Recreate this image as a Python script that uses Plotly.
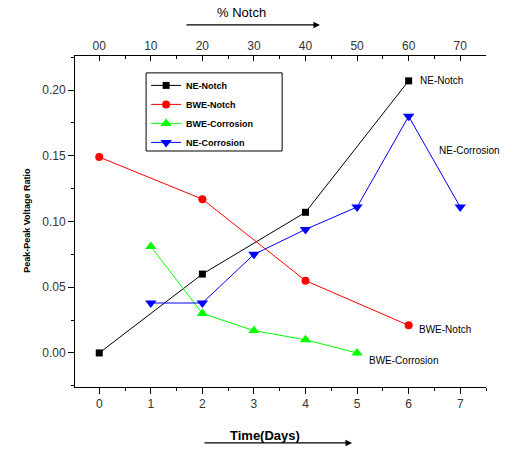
import plotly.graph_objects as go

# Measurement series (x in days)
ne_notch_days = [0, 2, 4, 6]
ne_notch_vals = [0.000, 0.060, 0.107, 0.207]

bwe_notch_days = [0, 2, 4, 6]
bwe_notch_vals = [0.149, 0.117, 0.055, 0.021]

bwe_corr_days = [1, 2, 3, 4, 5]
bwe_corr_vals = [0.081, 0.030, 0.017, 0.010, 0.000]

ne_corr_days = [1, 2, 3, 4, 5, 6, 7]
ne_corr_vals = [0.038, 0.038, 0.075, 0.094, 0.111, 0.180, 0.111]

day_ticks = [0, 1, 2, 3, 4, 5, 6, 7]
notch_tick_labels = ["00", "10", "20", "30", "40", "50", "60", "70"]
y_ticks = [0.00, 0.05, 0.10, 0.15, 0.20]

FONT = "Liberation Sans, Arial, sans-serif"

fig = go.Figure()

fig.add_trace(go.Scatter(x=ne_notch_days, y=ne_notch_vals, name="<b>NE-Notch</b>",
                         mode="lines+markers",
                         line=dict(color="black", width=1),
                         marker=dict(symbol="square", size=7, color="black")))
fig.add_trace(go.Scatter(x=bwe_notch_days, y=bwe_notch_vals, name="<b>BWE-Notch</b>",
                         mode="lines+markers",
                         line=dict(color="#ff0000", width=1),
                         marker=dict(symbol="circle", size=8, color="#ff0000")))
fig.add_trace(go.Scatter(x=bwe_corr_days, y=bwe_corr_vals, name="<b>BWE-Corrosion</b>",
                         mode="lines+markers",
                         line=dict(color="#00ff00", width=1),
                         marker=dict(symbol="triangle-up", size=10, color="#00ff00")))
fig.add_trace(go.Scatter(x=ne_corr_days, y=ne_corr_vals, name="<b>NE-Corrosion</b>",
                         mode="lines+markers",
                         line=dict(color="#0000ff", width=1),
                         marker=dict(symbol="triangle-down", size=10, color="#0000ff")))

# invisible trace to activate the top (% Notch) axis
fig.add_trace(go.Scatter(x=[day_ticks[0]], y=[0], xaxis="x2", mode="markers",
                         marker=dict(opacity=0), showlegend=False, hoverinfo="skip"))

x_range = [-0.47, 7.5]
y_range = [-0.0259, 0.2259]

fig.update_layout(
    width=525, height=449,
    margin=dict(l=75, r=39, t=56, b=62),
    paper_bgcolor="white", plot_bgcolor="white",
    font=dict(family=FONT, color="#222"),
    xaxis=dict(range=x_range, tickvals=day_ticks, showgrid=False, zeroline=False,
               showline=True, linecolor="black", linewidth=1,
               ticks="outside", ticklen=6, tickcolor="black",
               tickfont=dict(size=12, color="#333"),
               minor=dict(dtick=0.5, tick0=0, ticks="outside", ticklen=3,
                          tickcolor="black")),
    xaxis2=dict(range=x_range, overlaying="x", side="top", tickvals=day_ticks,
                ticktext=notch_tick_labels, showgrid=False, zeroline=False,
                showline=True, linecolor="black", linewidth=1,
                ticks="inside", ticklen=5, tickcolor="black",
                tickfont=dict(size=12, color="#333"),
                minor=dict(dtick=0.5, tick0=0, ticks="inside", ticklen=3,
                           tickcolor="black")),
    yaxis=dict(range=y_range, tickvals=y_ticks, tickformat=".2f",
               showgrid=False, zeroline=False,
               showline=True, linecolor="black", linewidth=1,
               ticks="outside", ticklen=6, tickcolor="black",
               tickfont=dict(size=12, color="#333"),
               minor=dict(dtick=0.025, tick0=0, ticks="outside", ticklen=3,
                          tickcolor="black")),
    legend=dict(x=0.173, y=0.955, xanchor="left", yanchor="top",
                bgcolor="rgba(0,0,0,0)", borderwidth=0,
                font=dict(size=9, family=FONT, color="black"),
                tracegroupgap=0),
    showlegend=True,
)

# framed box behind the legend entries
fig.add_shape(type="rect", xref="paper", yref="paper",
              x0=0.173, x1=0.504, y0=0.713, y1=0.949,
              line=dict(color="black", width=1), fillcolor="white", layer="above")

annotations = [
    # series end labels
    dict(x=6.19, y=0.207, xref="x", yref="y", text="NE-Notch", showarrow=False,
         xanchor="left", yanchor="middle", font=dict(size=10, color="black")),
    dict(x=6.55, y=0.154, xref="x", yref="y", text="NE-Corrosion", showarrow=False,
         xanchor="left", yanchor="middle", font=dict(size=10, color="black")),
    dict(x=6.17, y=0.018, xref="x", yref="y", text="BWE-Notch", showarrow=False,
         xanchor="left", yanchor="middle", font=dict(size=10, color="black")),
    dict(x=5.2, y=-0.006, xref="x", yref="y", text="BWE-Corrosion", showarrow=False,
         xanchor="left", yanchor="middle", font=dict(size=10, color="black")),
    # axis titles
    dict(x=-0.134, y=0.505, xref="paper", yref="paper", text="<b>Peak-Peak Voltage Ratio</b>",
         textangle=-90, showarrow=False, font=dict(size=9, color="black")),
    dict(x=0.406, y=1.102, xref="paper", yref="paper", text="% Notch",
         yanchor="bottom", showarrow=False, font=dict(size=13, color="black")),
    dict(x=0.462, y=-0.176, xref="paper", yref="paper", text="<b>Time(Days)</b>",
         yanchor="bottom", showarrow=False, font=dict(size=13, color="black")),
    # direction arrows
    dict(x=0.596, y=1.094, xref="paper", yref="paper", ax=-135, ay=0,
         axref="pixel", ayref="pixel", text="", showarrow=True,
         arrowhead=2, arrowsize=1, arrowwidth=1.3, arrowcolor="black"),
    dict(x=0.674, y=-0.169, xref="paper", yref="paper", ax=-149, ay=0,
         axref="pixel", ayref="pixel", text="", showarrow=True,
         arrowhead=2, arrowsize=1, arrowwidth=1.3, arrowcolor="black"),
]
fig.update_layout(annotations=annotations)

fig.write_html("out.html")
